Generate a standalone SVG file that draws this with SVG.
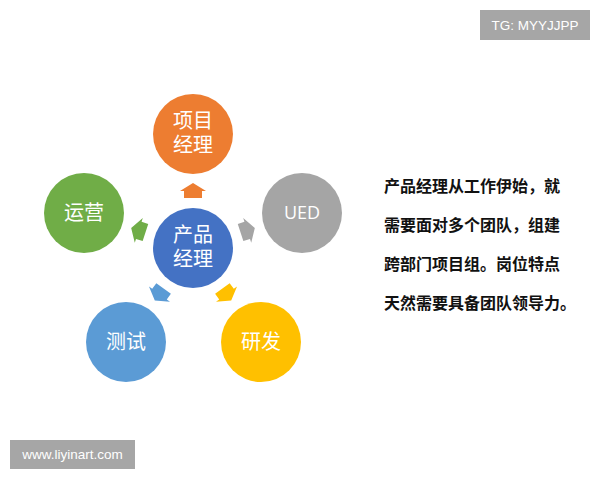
<svg xmlns="http://www.w3.org/2000/svg" width="600" height="480" viewBox="0 0 600 480">
<style>
.lbl{font-family:"Liberation Sans","Noto Sans CJK SC",sans-serif;font-size:20px;fill:#fff;text-anchor:middle}
.en{font-family:"Open Sans","Noto Sans",sans-serif;font-size:18px;fill:#fff;text-anchor:middle}
.body{font-family:"Noto Sans CJK SC",sans-serif;font-size:16px;font-weight:bold;fill:#111}
.badge{fill:#a6a6a6}
.bt{font-family:"Liberation Sans","DejaVu Sans",sans-serif;font-size:13.5px;fill:#fff;text-anchor:middle}
</style>
<defs>
<path id="arr" d="M193,183 L206,191 L202,191 L202,198 L184,198 L184,191 L180,191 Z"/>
</defs>
<rect width="600" height="480" fill="#fff"/>
<g id="connectors">
<use href="#arr" fill="#ED7D31"/>
<use href="#arr" fill="#A5A5A5" transform="rotate(72 193 248)"/>
<use href="#arr" fill="#FFC000" transform="rotate(144 193 248)"/>
<use href="#arr" fill="#5B9BD5" transform="rotate(216 193 248)"/>
<use href="#arr" fill="#70AD47" transform="rotate(288 193 248)"/>
</g>
<g id="center">
<circle cx="193" cy="248" r="40" fill="#4472C4"/>
<text class="lbl" x="193" y="242">产品</text>
<text class="lbl" x="193" y="266">经理</text>
</g>
<g id="pm">
<circle cx="193" cy="134" r="40" fill="#ED7D31"/>
<text class="lbl" x="193" y="128">项目</text>
<text class="lbl" x="193" y="152">经理</text>
</g>
<g id="ued">
<circle cx="302" cy="213" r="40" fill="#A5A5A5"/>
<text class="en" x="302" y="219">UED</text>
</g>
<g id="dev">
<circle cx="261" cy="342" r="40" fill="#FFC000"/>
<text class="lbl" x="261" y="349">研发</text>
</g>
<g id="test">
<circle cx="126" cy="342" r="40" fill="#5B9BD5"/>
<text class="lbl" x="126" y="349">测试</text>
</g>
<g id="ops">
<circle cx="84" cy="213" r="40" fill="#70AD47"/>
<text class="lbl" x="84" y="220">运营</text>
</g>
<g id="desc">
<text class="body" x="384" y="192">产品经理从工作伊始，就</text>
<text class="body" x="384" y="231">需要面对多个团队，组建</text>
<text class="body" x="384" y="270">跨部门项目组。岗位特点</text>
<text class="body" x="384" y="309">天然需要具备团队领导力。</text>
</g>
<g id="tg">
<rect class="badge" x="480" y="10" width="110" height="30"/>
<text class="bt" x="535" y="30">TG: MYYJJPP</text>
</g>
<g id="www">
<rect class="badge" x="10" y="440" width="125" height="29"/>
<text class="bt" x="72.5" y="459">www.liyinart.com</text>
</g>
</svg>
